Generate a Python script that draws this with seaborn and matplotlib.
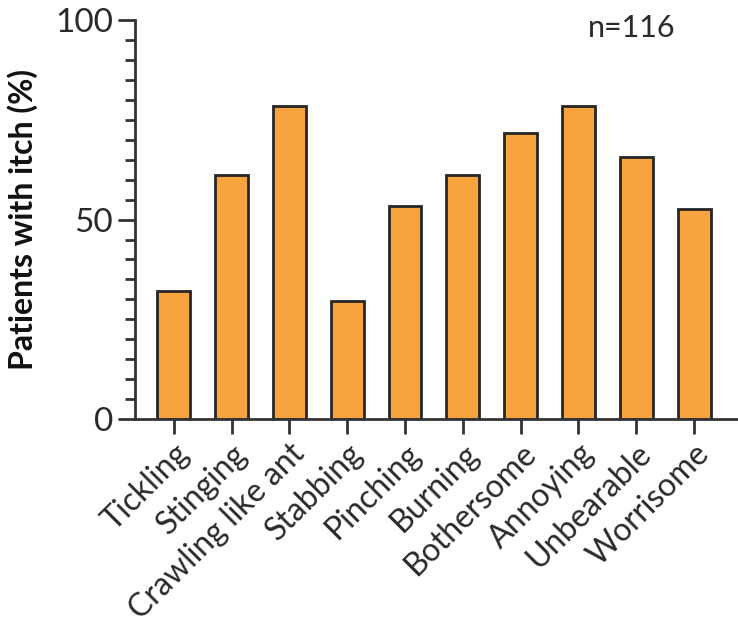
import pandas as pd
import seaborn as sns
import matplotlib.pyplot as plt
from matplotlib.ticker import MultipleLocator

# itch descriptors and share of patients (%)
descriptors = ["Tickling", "Stinging", "Crawling like ant", "Stabbing", "Pinching",
               "Burning", "Bothersome", "Annoying", "Unbearable", "Worrisome"]
percent = [32.0, 61.3, 78.5, 29.5, 53.5, 61.3, 71.6, 78.5, 65.6, 52.7]

df = pd.DataFrame({"descriptor": descriptors, "percent": percent})

sns.set_style("ticks")
plt.rcParams['font.family'] = ['Lato', 'DejaVu Sans']

txt = "#2a2a2a"
fig = plt.figure(figsize=(7.38, 6.31), dpi=100)
ax = fig.add_axes([0.183, 0.336, 0.817, 0.632])

sns.barplot(data=df, x="descriptor", y="percent", color="#F7A43F", saturation=1,
            edgecolor="#262626", linewidth=2, width=0.57, ax=ax)

ax.set_ylim(0, 100)
ax.set_xlim(-0.67, 9.76)
ax.yaxis.set_major_locator(MultipleLocator(50))
ax.yaxis.set_minor_locator(MultipleLocator(5))
ax.tick_params(axis='y', which='major', length=12, width=2, color="#333333",
               labelsize=24, labelcolor=txt, pad=4)
ax.tick_params(axis='y', which='minor', length=7, width=2, color="#333333")
ax.tick_params(axis='x', length=11, width=2, color="#333333", labelsize=23,
               labelcolor=txt, pad=3)
plt.setp(ax.get_xticklabels(), rotation=45, ha='right', rotation_mode='anchor')

sns.despine(ax=ax)
for s in ["left", "bottom"]:
    ax.spines[s].set_linewidth(2)
    ax.spines[s].set_color("#333333")

ax.set_xlabel("")
ax.set_ylabel("Patients with itch (%)", fontsize=23, fontweight='bold',
              color="#111111", labelpad=12)
ax.text(0.824, 0.98, "n=116", transform=ax.transAxes, fontsize=22,
        color=txt, ha='center', va='center')

fig.savefig("out.png", dpi=100)
